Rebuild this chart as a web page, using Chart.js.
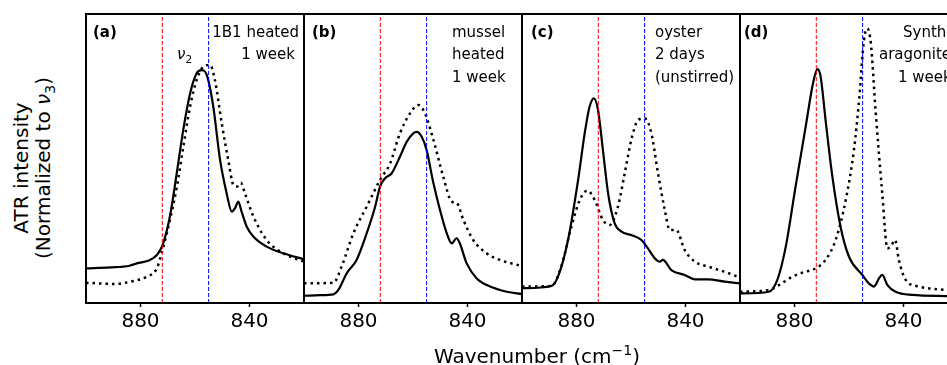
<!DOCTYPE html>
<html>
<head>
<meta charset="utf-8">
<script src="https://cdn.jsdelivr.net/npm/chart.js@4"></script>
<style>
  body { margin: 0; background: #fff; font-family: "DejaVu Sans", sans-serif; }
  #fig { position: relative; width: 947px; height: 365px; overflow: hidden; background: #fff; }
  canvas { position: absolute; top: 0; }
  .t { position: absolute; font-size: 15px; line-height: 18px; white-space: nowrap; color: #000; }
  .b { font-weight: bold; }
  .r { text-align: right; }
  #ylab { position: absolute; left: 35px; top: 168px; font-size: 20px; line-height: 22px; text-align: center;
          white-space: nowrap; transform: translate(-50%, -50%) rotate(-90deg); }
  #xlab { position: absolute; left: 537px; top: 355px; font-size: 20px; white-space: nowrap;
          transform: translate(-50%, -50%); }
  sub, sup { font-size: 70%; }
</style>
</head>
<body>
<div id="fig">
  <canvas id="pa" width="242" height="345"></canvas>
  <canvas id="pb" width="242" height="345"></canvas>
  <canvas id="pc" width="242" height="345"></canvas>
  <canvas id="pd" width="242" height="345"></canvas>

  <div id="ylab">ATR intensity<br>(Normalized to <i>ν</i><sub>3</sub>)</div>
  <div id="xlab">Wavenumber (cm<sup>−1</sup>)</div>

  <div class="t b" style="left:93px;top:23px">(a)</div>
  <div class="t r" style="right:648px;top:23px">1B1 heated</div>
  <div class="t r" style="right:652px;top:45px">1 week</div>
  <div class="t" style="left:177px;top:45px"><i>ν</i><sub>2</sub></div>

  <div class="t b" style="left:312px;top:23px">(b)</div>
  <div class="t" style="left:452px;top:23px">mussel</div>
  <div class="t" style="left:452px;top:45px">heated</div>
  <div class="t" style="left:452px;top:68px">1 week</div>

  <div class="t b" style="left:531px;top:23px">(c)</div>
  <div class="t" style="left:655px;top:23px">oyster</div>
  <div class="t" style="left:655px;top:45px">2 days</div>
  <div class="t" style="left:655px;top:68px">(unstirred)</div>

  <div class="t b" style="left:744px;top:23px">(d)</div>
  <div class="t" style="left:903px;top:23px">Synthetic</div>
  <div class="t" style="left:879px;top:45px">aragonite</div>
  <div class="t" style="left:898px;top:68px">1 week</div>
</div>
<script>
// band positions (cm-1) and axis ticks
const calciteBand = 872;
const aragoniteBand = 855;
const xTicks = [880, 840];

// (a) 1B1 heated 1 week
const aSolidWn = [900, 891, 884, 881.4, 876.5, 874, 871.9, 869.2, 866.7, 864.3, 861.8, 859.4, 857.6, 855.7, 853.3, 850.8, 848.4, 846.5, 845.3, 844.1, 842.9, 841, 838.6, 833.7, 827.6, 820];
const aSolid   = [0.12, 0.123, 0.129, 0.137, 0.149, 0.166, 0.2, 0.3, 0.449, 0.6, 0.725, 0.795, 0.806, 0.789, 0.68, 0.495, 0.38, 0.316, 0.328, 0.351, 0.316, 0.264, 0.23, 0.195, 0.172, 0.151];
const aDotWn   = [900, 890, 882.6, 877.7, 874, 871.6, 869.2, 866.7, 864.3, 861.8, 859.4, 856.9, 854.5, 852.7, 850.2, 847.8, 845.9, 844.5, 843.2, 841.7, 838.6, 833.7, 827.6, 820];
const aDot     = [0.07, 0.066, 0.076, 0.091, 0.12, 0.195, 0.287, 0.4, 0.54, 0.68, 0.772, 0.818, 0.824, 0.772, 0.622, 0.495, 0.408, 0.403, 0.416, 0.38, 0.3, 0.218, 0.172, 0.143];

// (b) mussel heated 1 week
const bSolidWn = [900, 894.1, 889.2, 887.4, 884.3, 880.7, 877, 873.9, 872.1, 870.3, 867.8, 864.8, 862.3, 859.9, 858.7, 856.8, 855, 852.5, 850.1, 847.6, 845.8, 844, 842.8, 840.3, 836.6, 831.7, 825.6, 820];
const bSolid   = [0.025, 0.027, 0.03, 0.045, 0.103, 0.149, 0.241, 0.333, 0.403, 0.431, 0.449, 0.506, 0.558, 0.587, 0.592, 0.575, 0.529, 0.414, 0.322, 0.241, 0.206, 0.224, 0.206, 0.137, 0.085, 0.057, 0.039, 0.031];
const bDotWn   = [900, 889.2, 886.2, 881.9, 877, 872.1, 868.4, 864.8, 861.1, 858.1, 855.6, 852.5, 848.9, 845.8, 844, 841.5, 837.9, 833, 828.1, 820];
const bDot     = [0.068, 0.07, 0.126, 0.241, 0.333, 0.426, 0.483, 0.587, 0.656, 0.685, 0.656, 0.564, 0.437, 0.351, 0.347, 0.287, 0.218, 0.172, 0.149, 0.128];

// (c) oyster 2 days (unstirred)
const cSolidWn = [900, 889.2, 886.8, 883.1, 879.4, 877, 875.2, 873.6, 872.1, 870.3, 868.4, 866, 863.5, 859.9, 856.2, 853.8, 851.3, 849.5, 848.3, 845.2, 840.3, 836.6, 831.7, 825.6, 820];
const cSolid   = [0.051, 0.059, 0.091, 0.218, 0.426, 0.587, 0.679, 0.708, 0.668, 0.529, 0.379, 0.276, 0.247, 0.235, 0.218, 0.189, 0.155, 0.143, 0.149, 0.114, 0.097, 0.082, 0.082, 0.074, 0.068];
const cDotWn   = [900, 889.2, 885.6, 881.9, 878.8, 876, 873.3, 870.3, 867.8, 864.8, 862.3, 859.9, 857.4, 855, 852.5, 850.1, 847.6, 845.8, 843.4, 840.3, 836.6, 831.7, 825.6, 820];
const cDot     = [0.057, 0.059, 0.126, 0.264, 0.356, 0.389, 0.356, 0.287, 0.27, 0.333, 0.449, 0.564, 0.633, 0.639, 0.587, 0.449, 0.322, 0.253, 0.253, 0.183, 0.143, 0.126, 0.108, 0.088];

// (d) synthetic aragonite 1 week
const dSolidWn = [900, 889.4, 886.3, 883.2, 879.6, 875.9, 873.2, 871.6, 870.4, 868.6, 866.1, 863.1, 860, 855.1, 852.7, 850.8, 849, 847.8, 845.9, 842.9, 836.8, 823.8, 820];
const dSolid   = [0.033, 0.039, 0.08, 0.195, 0.403, 0.61, 0.76, 0.809, 0.783, 0.633, 0.437, 0.264, 0.16, 0.097, 0.068, 0.057, 0.085, 0.097, 0.062, 0.039, 0.028, 0.024, 0.023];
const dDotWn   = [900, 889.4, 885.7, 880.8, 877.1, 872.2, 868.6, 864.9, 861.2, 858.2, 856.3, 854.5, 853.3, 852, 850.2, 847.8, 845.9, 844.7, 843.1, 841.7, 839.2, 834.3, 823.8, 820];
const dDot     = [0.039, 0.045, 0.062, 0.091, 0.105, 0.12, 0.149, 0.218, 0.356, 0.529, 0.702, 0.91, 0.95, 0.9, 0.66, 0.38, 0.189, 0.195, 0.218, 0.149, 0.08, 0.057, 0.045, 0.043];

const panelLeft = [86, 304, 522, 740];
const CANVAS_H = 345;
const PLOT_BOTTOM = 303;
const PAD = 12;

function pts(xs, ys) { return xs.map((x, i) => ({ x: x, y: ys[i] })); }

const frame = {
  id: 'frame',
  afterDraw(chart) {
    const { ctx, chartArea: a } = chart;
    ctx.save();
    ctx.strokeStyle = '#000';
    ctx.lineWidth = 2;
    ctx.strokeRect(a.left, a.top, a.right - a.left, a.bottom - a.top);
    ctx.restore();
  }
};

function makePanel(id, idx, solidWn, solid, dotWn, dot) {
  const cv = document.getElementById(id);
  cv.style.left = (panelLeft[idx] - PAD) + 'px';
  return new Chart(cv.getContext('2d'), {
    type: 'line',
    data: {
      datasets: [
        { data: [{ x: calciteBand, y: 0 }, { x: calciteBand, y: 1 }], borderColor: '#ff0000', borderWidth: 1, borderDash: [4, 2], pointRadius: 0 },
        { data: [{ x: aragoniteBand, y: 0 }, { x: aragoniteBand, y: 1 }], borderColor: '#0000ff', borderWidth: 1, borderDash: [4, 2], pointRadius: 0 },
        { data: pts(dotWn, dot), borderColor: '#000', borderWidth: 2.5, borderDash: [2.5, 4], pointRadius: 0, cubicInterpolationMode: 'monotone' },
        { data: pts(solidWn, solid), borderColor: '#000', borderWidth: 2.2, pointRadius: 0, cubicInterpolationMode: 'monotone' }
      ]
    },
    options: {
      responsive: false,
      animation: false,
      events: [],
      layout: { padding: { left: PAD, right: PAD, top: 14, bottom: 0 } },
      plugins: { legend: { display: false }, tooltip: { enabled: false } },
      scales: {
        x: {
          type: 'linear',
          reverse: true,
          min: 820,
          max: 900,
          afterBuildTicks: (s) => { s.ticks = xTicks.map(v => ({ value: v })); },
          afterFit: (s) => { s.height = CANVAS_H - PLOT_BOTTOM; },
          ticks: { color: '#000', padding: 3, maxRotation: 0, font: { family: 'DejaVu Sans', size: 20 } },
          grid: { drawOnChartArea: false, drawTicks: true, tickLength: 4, tickWidth: 1.5, tickColor: '#000' },
          border: { display: false }
        },
        y: { type: 'linear', min: 0, max: 1, display: false }
      }
    },
    plugins: [frame]
  });
}

makePanel('pa', 0, aSolidWn, aSolid, aDotWn, aDot);
makePanel('pb', 1, bSolidWn, bSolid, bDotWn, bDot);
makePanel('pc', 2, cSolidWn, cSolid, cDotWn, cDot);
makePanel('pd', 3, dSolidWn, dSolid, dDotWn, dDot);
</script>
</body>
</html>
